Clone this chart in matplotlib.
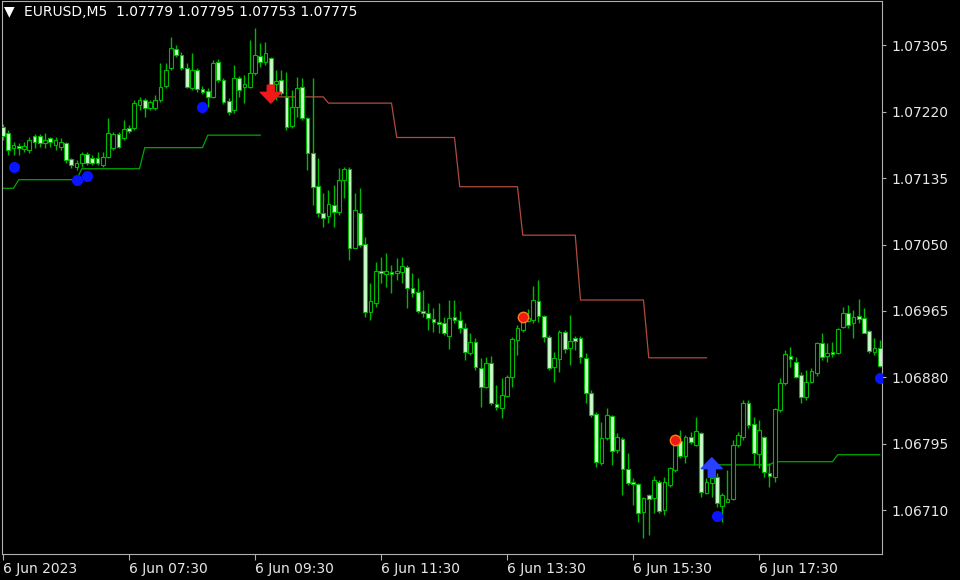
import numpy as np
import matplotlib
matplotlib.use('Agg')
import matplotlib.pyplot as plt

# EURUSD M5, 6 Jun 2023 05:30 .. 19:25, one entry per bar
opens = [1.07200, 1.07193, 1.07174, 1.07176, 1.07172, 1.07171, 1.07189, 1.07189, 1.07180, 1.07187,
         1.07178, 1.07175, 1.07180, 1.07159, 1.07149, 1.07154, 1.07166, 1.07161, 1.07161, 1.07152,
         1.07162, 1.07174, 1.07191, 1.07187, 1.07199, 1.07199, 1.07229, 1.07235, 1.07225, 1.07225,
         1.07235, 1.07253, 1.07276, 1.07300, 1.07293, 1.07276, 1.07250, 1.07273, 1.07249, 1.07247,
         1.07239, 1.07284, 1.07261, 1.07234, 1.07222, 1.07263, 1.07252, 1.07252, 1.07270, 1.07291,
         1.07284, 1.07289, 1.07255, 1.07261, 1.07239, 1.07202, 1.07226, 1.07252, 1.07212, 1.07167,
         1.07125, 1.07090, 1.07087, 1.07101, 1.07092, 1.07133, 1.07147, 1.07046, 1.07090, 1.07051,
         1.06964, 1.06975, 1.07016, 1.07012, 1.07015, 1.07014, 1.07015, 1.07021, 1.06994, 1.06989,
         1.06965, 1.06962, 1.06955, 1.06951, 1.06950, 1.06933, 1.06957, 1.06953, 1.06943, 1.06911,
         1.06925, 1.06892, 1.06868, 1.06898, 1.06846, 1.06841, 1.06856, 1.06880, 1.06928, 1.06941,
         1.06952, 1.06953, 1.06978, 1.06959, 1.06932, 1.06893, 1.06903, 1.06938, 1.06918, 1.06930,
         1.06930, 1.06905, 1.06860, 1.06833, 1.06770, 1.06802, 1.06831, 1.06787, 1.06801, 1.06763,
         1.06746, 1.06743, 1.06708, 1.06729, 1.06726, 1.06746, 1.06710, 1.06742, 1.06761, 1.06799,
         1.06779, 1.06804, 1.06793, 1.06809, 1.06732, 1.06745, 1.06752, 1.06715, 1.06720, 1.06724,
         1.06793, 1.06804, 1.06847, 1.06820, 1.06782, 1.06804, 1.06758, 1.06752, 1.06838, 1.06873,
         1.06907, 1.06900, 1.06883, 1.06855, 1.06874, 1.06886, 1.06924, 1.06907, 1.06912, 1.06911,
         1.06944, 1.06962, 1.06950, 1.06959, 1.06956, 1.06939, 1.06912, 1.06918]
highs = [1.07204, 1.07197, 1.07181, 1.07180, 1.07181, 1.07188, 1.07191, 1.07191, 1.07193, 1.07188,
         1.07188, 1.07187, 1.07181, 1.07161, 1.07158, 1.07168, 1.07168, 1.07165, 1.07168, 1.07168,
         1.07212, 1.07194, 1.07194, 1.07209, 1.07203, 1.07235, 1.07239, 1.07238, 1.07235, 1.07241,
         1.07282, 1.07282, 1.07316, 1.07305, 1.07296, 1.07282, 1.07295, 1.07276, 1.07253, 1.07250,
         1.07286, 1.07287, 1.07263, 1.07238, 1.07280, 1.07266, 1.07267, 1.07312, 1.07327, 1.07308,
         1.07309, 1.07290, 1.07273, 1.07273, 1.07271, 1.07248, 1.07264, 1.07263, 1.07213, 1.07263,
         1.07161, 1.07116, 1.07120, 1.07126, 1.07148, 1.07149, 1.07149, 1.07116, 1.07122, 1.07060,
         1.07001, 1.07028, 1.07034, 1.07039, 1.07024, 1.07033, 1.07034, 1.07024, 1.07014, 1.07007,
         1.06992, 1.06975, 1.06969, 1.06975, 1.06957, 1.06979, 1.06979, 1.06965, 1.06950, 1.06937,
         1.06930, 1.06905, 1.06906, 1.06907, 1.06870, 1.06879, 1.06883, 1.06932, 1.06947, 1.06960,
         1.06967, 1.06997, 1.07005, 1.06960, 1.06934, 1.06912, 1.06941, 1.06941, 1.06960, 1.06933,
         1.06933, 1.06911, 1.06864, 1.06836, 1.06823, 1.06841, 1.06832, 1.06809, 1.06804, 1.06783,
         1.06751, 1.06745, 1.06727, 1.06731, 1.06754, 1.06749, 1.06752, 1.06765, 1.06804, 1.06813,
         1.06806, 1.06810, 1.06829, 1.06810, 1.06751, 1.06761, 1.06758, 1.06732, 1.06761, 1.06800,
         1.06810, 1.06851, 1.06851, 1.06829, 1.06825, 1.06805, 1.06770, 1.06841, 1.06879, 1.06915,
         1.06919, 1.06906, 1.06887, 1.06889, 1.06892, 1.06925, 1.06937, 1.06924, 1.06925, 1.06943,
         1.06970, 1.06973, 1.06966, 1.06980, 1.06969, 1.06941, 1.06930, 1.06928]
lows = [1.07184, 1.07165, 1.07165, 1.07165, 1.07168, 1.07167, 1.07174, 1.07175, 1.07174, 1.07175,
        1.07171, 1.07171, 1.07154, 1.07148, 1.07145, 1.07149, 1.07152, 1.07152, 1.07152, 1.07149,
        1.07161, 1.07171, 1.07174, 1.07184, 1.07193, 1.07197, 1.07222, 1.07213, 1.07222, 1.07222,
        1.07232, 1.07250, 1.07273, 1.07290, 1.07273, 1.07250, 1.07248, 1.07245, 1.07243, 1.07226,
        1.07238, 1.07258, 1.07230, 1.07216, 1.07218, 1.07239, 1.07231, 1.07250, 1.07267, 1.07277,
        1.07280, 1.07252, 1.07235, 1.07241, 1.07197, 1.07199, 1.07213, 1.07209, 1.07145, 1.07101,
        1.07085, 1.07072, 1.07078, 1.07072, 1.07088, 1.07110, 1.07030, 1.07046, 1.07047, 1.06957,
        1.06953, 1.06970, 1.07001, 1.06996, 1.06988, 1.07005, 1.07001, 1.06969, 1.06983, 1.06962,
        1.06957, 1.06941, 1.06938, 1.06937, 1.06934, 1.06916, 1.06950, 1.06937, 1.06902, 1.06909,
        1.06889, 1.06842, 1.06866, 1.06845, 1.06838, 1.06828, 1.06855, 1.06868, 1.06909, 1.06938,
        1.06951, 1.06950, 1.06951, 1.06925, 1.06889, 1.06874, 1.06887, 1.06911, 1.06896, 1.06915,
        1.06898, 1.06847, 1.06829, 1.06765, 1.06768, 1.06800, 1.06768, 1.06783, 1.06729, 1.06742,
        1.06717, 1.06695, 1.06674, 1.06678, 1.06706, 1.06706, 1.06704, 1.06740, 1.06759, 1.06777,
        1.06770, 1.06795, 1.06792, 1.06727, 1.06731, 1.06727, 1.06714, 1.06695, 1.06720, 1.06723,
        1.06791, 1.06800, 1.06815, 1.06768, 1.06764, 1.06752, 1.06740, 1.06746, 1.06836, 1.06870,
        1.06893, 1.06879, 1.06847, 1.06851, 1.06873, 1.06882, 1.06902, 1.06900, 1.06906, 1.06910,
        1.06943, 1.06943, 1.06930, 1.06950, 1.06937, 1.06911, 1.06909, 1.06893]
closes = [1.07189, 1.07171, 1.07178, 1.07174, 1.07176, 1.07184, 1.07181, 1.07180, 1.07184, 1.07181,
          1.07184, 1.07181, 1.07158, 1.07152, 1.07155, 1.07166, 1.07154, 1.07154, 1.07154, 1.07162,
          1.07193, 1.07192, 1.07175, 1.07198, 1.07195, 1.07231, 1.07235, 1.07225, 1.07232, 1.07235,
          1.07252, 1.07273, 1.07302, 1.07293, 1.07276, 1.07252, 1.07273, 1.07249, 1.07245, 1.07239,
          1.07282, 1.07261, 1.07232, 1.07220, 1.07263, 1.07248, 1.07255, 1.07270, 1.07293, 1.07284,
          1.07295, 1.07254, 1.07259, 1.07244, 1.07200, 1.07226, 1.07250, 1.07212, 1.07167, 1.07124,
          1.07090, 1.07084, 1.07102, 1.07092, 1.07133, 1.07147, 1.07046, 1.07094, 1.07049, 1.06964,
          1.06978, 1.07016, 1.07014, 1.07016, 1.07012, 1.07016, 1.07023, 1.06994, 1.06988, 1.06965,
          1.06962, 1.06956, 1.06951, 1.06948, 1.06937, 1.06956, 1.06953, 1.06943, 1.06912, 1.06925,
          1.06893, 1.06868, 1.06898, 1.06847, 1.06842, 1.06857, 1.06880, 1.06929, 1.06943, 1.06952,
          1.06956, 1.06979, 1.06959, 1.06932, 1.06892, 1.06905, 1.06938, 1.06916, 1.06927, 1.06927,
          1.06906, 1.06860, 1.06832, 1.06772, 1.06802, 1.06832, 1.06786, 1.06804, 1.06763, 1.06745,
          1.06743, 1.06706, 1.06726, 1.06724, 1.06749, 1.06709, 1.06746, 1.06764, 1.06800, 1.06779,
          1.06804, 1.06797, 1.06811, 1.06733, 1.06746, 1.06751, 1.06719, 1.06729, 1.06724, 1.06793,
          1.06806, 1.06847, 1.06819, 1.06783, 1.06813, 1.06759, 1.06754, 1.06839, 1.06873, 1.06910,
          1.06903, 1.06880, 1.06855, 1.06874, 1.06888, 1.06924, 1.06906, 1.06911, 1.06910, 1.06942,
          1.06962, 1.06947, 1.06957, 1.06955, 1.06937, 1.06914, 1.06918, 1.06895]

# indicator step lines: first bar of each step, level, last bar of the line
red_starts = [51, 62, 75, 87, 99, 110, 123]
red_levels = [1.07239, 1.07231, 1.07187, 1.07124, 1.07062, 1.06979, 1.06905]
red_end = 134
green1_starts = [-1, 3, 15, 27, 39]
green1_levels = [1.07122, 1.07133, 1.07147, 1.07174, 1.07190]
green1_end = 49
green2_starts = [136, 147, 159]
green2_levels = [1.06768, 1.06772, 1.06781]
green2_end = 167

# signal dots and arrows
blue_dot_bars = [2, 14, 16, 38, 136, 167]
blue_dot_prices = [1.07149, 1.07133, 1.07138, 1.07226, 1.06703, 1.06879]
red_dot_bars = [99, 128]
red_dot_prices = [1.06957, 1.06800]
sell_arrow = (51, 1.07254, 1.07231)   # bar, tail, tip
buy_arrow = (135, 1.06752, 1.06777)

price_ticks = [1.07305, 1.07220, 1.07135, 1.07050, 1.06965, 1.06880, 1.06795, 1.06710]
time_tick_bars = [0, 24, 48, 72, 96, 120, 144]
time_labels = ['6 Jun 2023', '6 Jun 07:30', '6 Jun 09:30', '6 Jun 11:30',
               '6 Jun 13:30', '6 Jun 15:30', '6 Jun 17:30']

title = 'EURUSD,M5  1.07779 1.07795 1.07753 1.07775'

GREEN = '#00b800'
BEAR_FILL = '#ccf8cc'
FRAME = '#b0b0b0'
TEXT = '#e8e8e8'


def steps(starts, levels, end):
    xs, ys = [], []
    for i, (s, v) in enumerate(zip(starts, levels)):
        e = starts[i + 1] if i + 1 < len(starts) else end + 1
        xs += list(range(s, e))
        ys += [v] * (e - s)
    return xs, ys


o = np.array(opens)
h = np.array(highs)
l = np.array(lows)
c = np.array(closes)
x = np.arange(len(o))
bull = c >= o

W, H = 960, 580
fig = plt.figure(figsize=(W / 100, H / 100), dpi=100, facecolor='black')
ax = fig.add_axes([1.5 / W, 1 - 554 / H, 880.5 / W, 553 / H], facecolor='black')

# wicks behind bodies
ax.vlines(x, l, h, color=GREEN, linewidth=1.0, zorder=2)

body_lo = np.minimum(o, c)
body_h = np.maximum(np.abs(c - o), 0.000004)
ax.bar(x[bull], body_h[bull], bottom=body_lo[bull], width=0.68,
       facecolor='black', edgecolor=GREEN, linewidth=0.8, zorder=3)
ax.bar(x[~bull], body_h[~bull], bottom=body_lo[~bull], width=0.68,
       facecolor=BEAR_FILL, edgecolor=GREEN, linewidth=0.8, zorder=3)

# step lines
rx, ry = steps(red_starts, red_levels, red_end)
ax.plot(rx, ry, color='#b04c3c', linewidth=0.9, zorder=1)
gx, gy = steps(green1_starts, green1_levels, green1_end)
ax.plot(gx, gy, color='#00a800', linewidth=0.9, zorder=1)
gx, gy = steps(green2_starts, green2_levels, green2_end)
ax.plot(gx, gy, color='#00a800', linewidth=0.9, zorder=1)

# dots
ax.plot(blue_dot_bars, blue_dot_prices, 'o', color='#0a14ff', markersize=8,
        markeredgewidth=0, zorder=5)
ax.plot(red_dot_bars, red_dot_prices, 'o', markerfacecolor='#f01a10',
        markeredgecolor='#ff7a20', markeredgewidth=1.0, markersize=7.5, zorder=5)

# arrows
for (b, tail, tip), col in [(sell_arrow, '#f01818'), (buy_arrow, '#2a40ff')]:
    ax.annotate('', xy=(b, tip), xytext=(b, tail), zorder=6,
                arrowprops=dict(arrowstyle='simple,head_length=0.65,head_width=1.25,tail_width=0.42',
                                color=col, mutation_scale=12, shrinkA=0, shrinkB=0))

ax.set_xlim(-0.286, 167.43)
ax.set_ylim(1.0665388, 1.0736172)

ax.yaxis.tick_right()
ax.set_yticks(price_ticks)
ax.set_yticklabels([f'{p:.5f}' for p in price_ticks])
ax.set_xticks(time_tick_bars)
ax.set_xticklabels(time_labels)
for lab in ax.get_xticklabels():
    lab.set_horizontalalignment('left')
ax.tick_params(axis='y', direction='out', length=3, width=0.8, color=FRAME,
               labelcolor=TEXT, labelsize=10, pad=4)
ax.tick_params(axis='x', direction='out', length=4, width=0.8, color=FRAME,
               labelcolor=TEXT, labelsize=10, pad=2)
for sp in ax.spines.values():
    sp.set_color(FRAME)
    sp.set_linewidth(0.8)

# header text
fig.text(4 / W, 1 - 11 / H, '\u25bc', color='white', fontsize=10, va='center', ha='left')
fig.text(24 / W, 1 - 12 / H, title, color='white', fontsize=10, va='center', ha='left')

fig.savefig('out.png', dpi=100, facecolor='black')
